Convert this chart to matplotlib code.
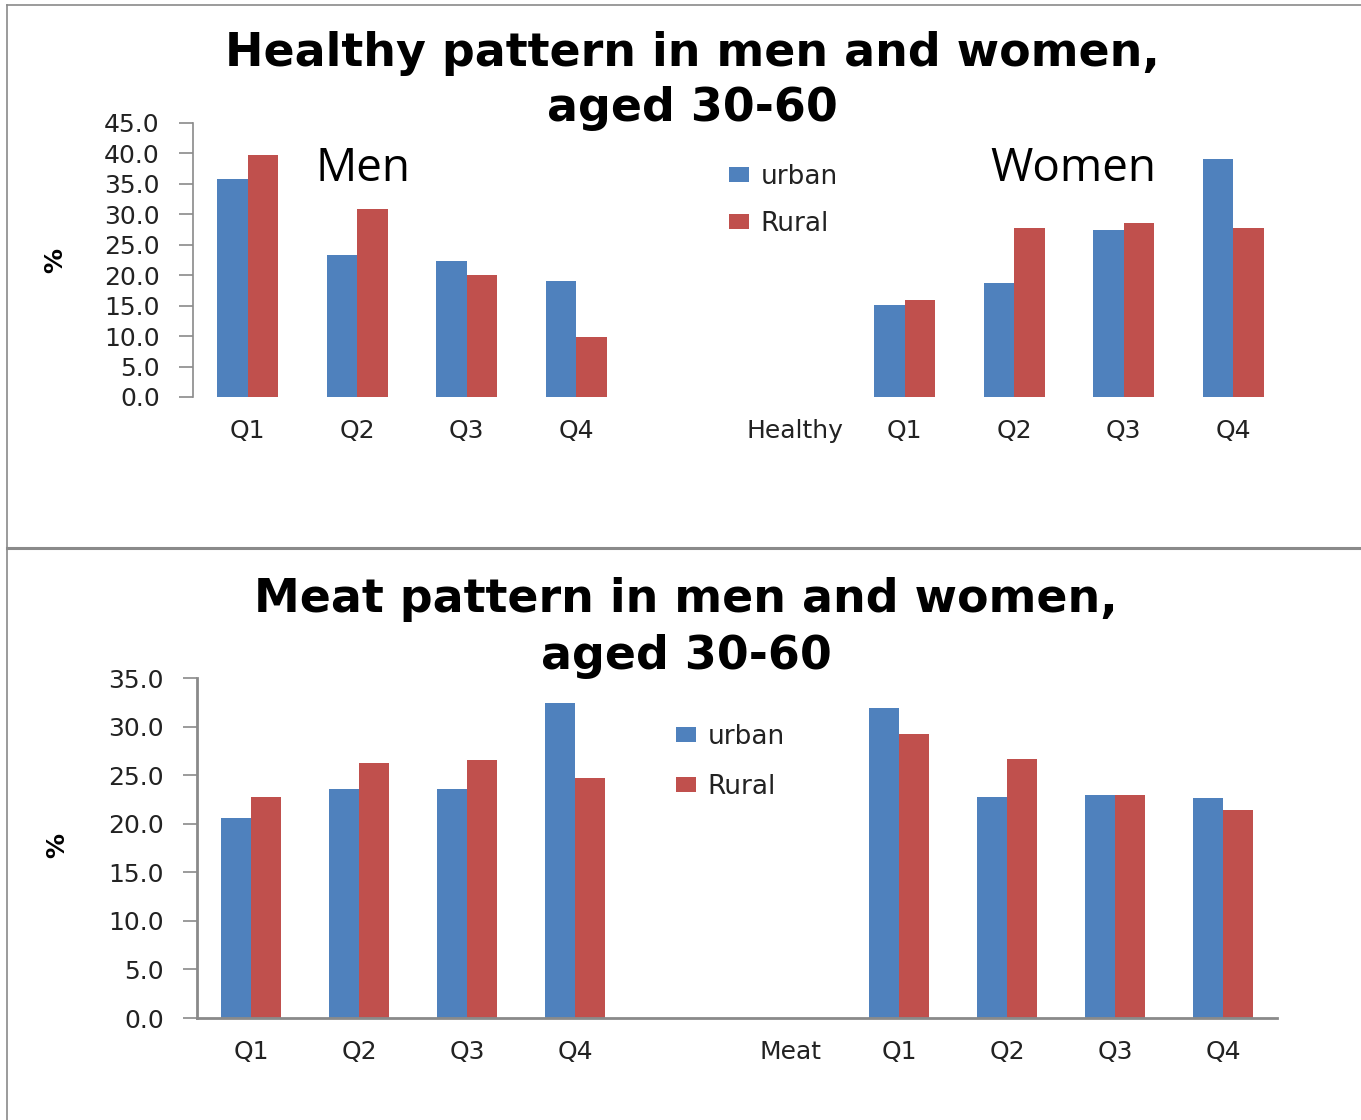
import numpy as np
import matplotlib
matplotlib.use("Agg")
import matplotlib.pyplot as plt
from matplotlib.lines import Line2D

# ---- data -------------------------------------------------------------
quartiles = ["Q1", "Q2", "Q3", "Q4"]

healthy_men_urban = [35.8, 23.3, 22.3, 19.0]
healthy_men_rural = [39.7, 30.8, 20.1, 9.8]
healthy_women_urban = [15.1, 18.8, 27.4, 39.1]
healthy_women_rural = [16.0, 27.7, 28.6, 27.7]

meat_men_urban = [20.6, 23.6, 23.6, 32.4]
meat_men_rural = [22.8, 26.3, 26.6, 24.7]
meat_women_urban = [31.9, 22.8, 23.0, 22.6]
meat_women_rural = [29.2, 26.7, 23.0, 21.4]

series_names = ["urban", "Rural"]
healthy_ticks = [0, 5, 10, 15, 20, 25, 30, 35, 40, 45]
meat_ticks = [0, 5, 10, 15, 20, 25, 30, 35]

BLUE = "#4F81BD"
RED = "#C0504D"
GREY = "#8a8a8a"
INK = "#222222"

W, H = 1361, 1120
fig = plt.figure(figsize=(W / 100, H / 100), dpi=100)
fig.patch.set_facecolor("white")


def fx(px):
    return px / W


def fy(py):
    return 1 - py / H


def panel(rect, pattern, men_u, men_r, women_u, women_r, ticks,
          show_base, spine_w):
    ax = fig.add_axes(rect)
    labels = quartiles + ["", pattern] + quartiles
    x = np.arange(len(labels))
    men_x = x[:4]
    women_x = x[6:]
    bw = 0.28
    kw = dict(width=bw, linewidth=0)
    ax.bar(men_x - bw / 2, men_u, color=BLUE, label=series_names[0], **kw)
    ax.bar(men_x + bw / 2, men_r, color=RED, label=series_names[1], **kw)
    ax.bar(women_x - bw / 2, women_u, color=BLUE, **kw)
    ax.bar(women_x + bw / 2, women_r, color=RED, **kw)
    ax.set_xlim(-0.5, len(labels) - 0.5)
    ax.set_ylim(0, ticks[-1])
    ax.set_yticks(ticks)
    ax.set_yticklabels([f"{t:.1f}" for t in ticks])
    ax.set_xticks(x)
    ax.set_xticklabels(labels)
    for s in ["top", "right"]:
        ax.spines[s].set_visible(False)
    for s in ["left", "bottom"]:
        ax.spines[s].set_color(GREY)
        ax.spines[s].set_linewidth(spine_w)
    ax.spines["bottom"].set_visible(show_base)
    ax.tick_params(axis="y", direction="out", length=10, width=1.2,
                   color=GREY, labelsize=18, pad=14, labelcolor=INK)
    ax.tick_params(axis="x", length=0, labelsize=18, pad=16,
                   labelcolor=INK)
    return ax


legend_kw = dict(loc="upper left", frameon=False, fontsize=19, borderpad=0,
                 borderaxespad=0, handlelength=0.75, handleheight=0.5,
                 handletextpad=0.45, labelcolor=INK)

# ---- top panel: healthy pattern --------------------------------------
ax1 = panel([fx(193), fy(397), fx(1288) - fx(193), fy(123) - fy(397)],
            "Healthy", healthy_men_urban, healthy_men_rural,
            healthy_women_urban, healthy_women_rural, healthy_ticks,
            False, 1.2)

fig.text(fx(692), fy(81), "Healthy pattern in men and women,\naged 30-60",
         ha="center", va="center", fontsize=33, fontweight="bold",
         linespacing=1.26)
fig.text(fx(315), fy(181), "Men", fontsize=33, family="Open Sans",
         va="baseline")
fig.text(fx(990), fy(181), "Women", fontsize=33, family="Open Sans",
         va="baseline")
fig.text(fx(55), fy(260), "%", rotation=90, ha="center", va="center",
         fontsize=18, fontweight="bold")

h1, l1 = ax1.get_legend_handles_labels()
fig.legend(h1, l1, bbox_to_anchor=(fx(729), fy(164)), labelspacing=0.78,
           **legend_kw)

# ---- bottom panel: meat pattern --------------------------------------
ax2 = panel([fx(197), fy(1018), fx(1277) - fx(197), fy(678) - fy(1018)],
            "Meat", meat_men_urban, meat_men_rural,
            meat_women_urban, meat_women_rural, meat_ticks, True, 2.0)

fig.text(fx(686), fy(628), "Meat pattern in men and women,\naged 30-60",
         ha="center", va="center", fontsize=33, fontweight="bold",
         linespacing=1.36)
fig.text(fx(57), fy(845), "%", rotation=90, ha="center", va="center",
         fontsize=18, fontweight="bold")

h2, l2 = ax2.get_legend_handles_labels()
fig.legend(h2, l2, bbox_to_anchor=(fx(676), fy(724)), labelspacing=0.92,
           **legend_kw)

# ---- panel frames -----------------------------------------------------
frame = dict(transform=fig.transFigure, color=GREY)
fig.add_artist(Line2D([fx(7), 1], [fy(5), fy(5)], linewidth=1.2, **frame))
fig.add_artist(Line2D([fx(7), fx(7)], [fy(5), 0], linewidth=1.2, **frame))
fig.add_artist(Line2D([fx(7), 1], [fy(548), fy(548)], linewidth=2.2, **frame))

fig.savefig("out.png", dpi=100, facecolor="white")
